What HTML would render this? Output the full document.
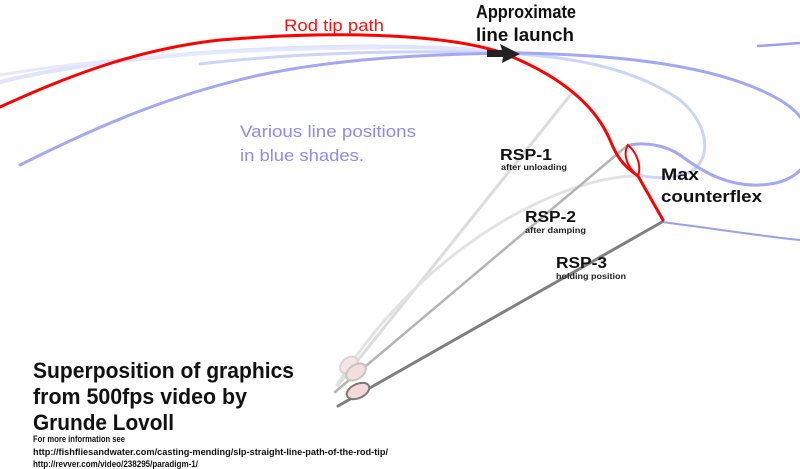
<!DOCTYPE html>
<html><head><meta charset="utf-8"><style>
html,body{margin:0;padding:0;background:#fff;}
svg{display:block;}
text{font-family:"Liberation Sans",sans-serif;}
</style></head><body>
<svg width="800" height="469" viewBox="0 0 800 469" xmlns="http://www.w3.org/2000/svg">
<g fill="none" stroke-linecap="round">
<path d="M0,82 C80,62 200,50 330,47 C420,45 480,50 520,53" stroke="#dfe3fb" stroke-width="4"/>
<path d="M0,75 C100,58 250,48 380,48" stroke="#e6e9fc" stroke-width="3"/>
<path d="M200,64 C300,52 420,50 500,53 C580,56 640,72 680,100 C710,125 712,160 690,172 C670,180 650,178 640,175" stroke="#cdd4fa" stroke-width="3"/>
<path d="M20,165 C100,125 170,95 260,75 C340,58 430,54 520,53 C620,55 720,65 780,100 C830,130 815,178 770,184 C730,190 700,170 680,155 C665,145 645,142 630,145" stroke="#a3a8f4" stroke-width="3"/>
<path d="M758,46 L800,43" stroke="#9a9ff2" stroke-width="2.5"/>
<path d="M662,222 C710,228 760,236 800,240" stroke="#9a9ff2" stroke-width="2"/>
<path d="M572,93 L338,385" stroke="#dcdcdc" stroke-width="3"/>
<path d="M640,176 C560,175 420,250 337,385" stroke="#e2e2e2" stroke-width="3"/>
<path d="M628,145 L335,392" stroke="#b4b4b4" stroke-width="2.5"/>
<path d="M662,222 L338,406" stroke="#808080" stroke-width="3"/>
<ellipse cx="349" cy="365" rx="10" ry="7" transform="rotate(-40 349 365)" fill="#f8e4e4" stroke="#d6d6d6" stroke-width="2"/>
<ellipse cx="356" cy="372" rx="11" ry="7" transform="rotate(-35 356 372)" fill="#f4dede" stroke="#c4c4c4" stroke-width="2"/>
<ellipse cx="358" cy="391" rx="12" ry="7" transform="rotate(-25 358 391)" fill="#f5d8d8" stroke="#7a7a7a" stroke-width="2"/>
<path d="M0,107 C60,80 130,50 220,40 C330,31 440,33 500,52 C560,75 595,105 610,140 C616,155 622,165 638,176 L663,220" stroke="#ff0000" stroke-width="3"/>
<path d="M628,145 C622,155 628,168 638,176 C642,165 636,152 628,145 Z" stroke="#ff0000" stroke-width="2"/>
</g>
<path d="M487,50 L502,50 L500,44 L520,54 L502,63 L503,57 L487,57 Z" fill="#222"/>
<text x="284" y="31" font-size="17" fill="#ff1010" textLength="100" lengthAdjust="spacingAndGlyphs">Rod tip path</text>
<text x="476" y="18" font-size="18" font-weight="bold" fill="#111" textLength="100" lengthAdjust="spacingAndGlyphs">Approximate</text>
<text x="476" y="41" font-size="18" font-weight="bold" fill="#111" textLength="98" lengthAdjust="spacingAndGlyphs">line launch</text>
<text x="240" y="137" font-size="17" fill="#8c8cf0" textLength="176" lengthAdjust="spacingAndGlyphs">Various line positions</text>
<text x="240" y="161" font-size="17" fill="#8c8cf0" textLength="124" lengthAdjust="spacingAndGlyphs">in blue shades.</text>
<text x="500" y="160" font-size="16" font-weight="bold" fill="#111" textLength="52" lengthAdjust="spacingAndGlyphs">RSP-1</text>
<text x="501" y="170" font-size="8" font-weight="bold" fill="#222" textLength="66" lengthAdjust="spacingAndGlyphs">after unloading</text>
<text x="525" y="222" font-size="16" font-weight="bold" fill="#111" textLength="51" lengthAdjust="spacingAndGlyphs">RSP-2</text>
<text x="525" y="233" font-size="8" font-weight="bold" fill="#222" textLength="61" lengthAdjust="spacingAndGlyphs">after damping</text>
<text x="556" y="268" font-size="16" font-weight="bold" fill="#111" textLength="51" lengthAdjust="spacingAndGlyphs">RSP-3</text>
<text x="556" y="279" font-size="8" font-weight="bold" fill="#222" textLength="70" lengthAdjust="spacingAndGlyphs">holding position</text>
<text x="661" y="180" font-size="17" font-weight="bold" fill="#111" textLength="38" lengthAdjust="spacingAndGlyphs">Max</text>
<text x="661" y="202" font-size="17" font-weight="bold" fill="#111" textLength="101" lengthAdjust="spacingAndGlyphs">counterflex</text>
<text x="33" y="378" font-size="22" font-weight="bold" fill="#111" textLength="261" lengthAdjust="spacingAndGlyphs">Superposition of graphics</text>
<text x="33" y="404" font-size="22" font-weight="bold" fill="#111" textLength="214" lengthAdjust="spacingAndGlyphs">from 500fps video by</text>
<text x="33" y="430" font-size="22" font-weight="bold" fill="#111" textLength="141" lengthAdjust="spacingAndGlyphs">Grunde Lovoll</text>
<text x="33" y="442" font-size="9" font-weight="bold" fill="#111" textLength="92" lengthAdjust="spacingAndGlyphs">For more information see</text>
<text x="33" y="455" font-size="9" font-weight="bold" fill="#111" textLength="355" lengthAdjust="spacingAndGlyphs">http://fishfliesandwater.com/casting-mending/slp-straight-line-path-of-the-rod-tip/</text>
<text x="33" y="467" font-size="9" font-weight="bold" fill="#111" textLength="165" lengthAdjust="spacingAndGlyphs">http://revver.com/video/238295/paradigm-1/</text>
</svg>
</body></html>
